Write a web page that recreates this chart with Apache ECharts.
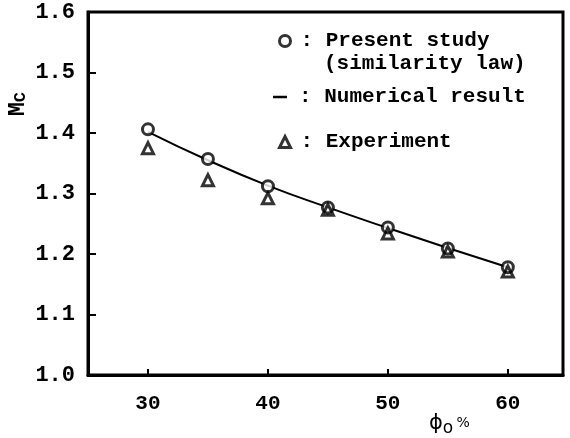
<!DOCTYPE html>
<html>
<head>
<meta charset="utf-8">
<script src="https://cdn.jsdelivr.net/npm/echarts@6/dist/echarts.min.js"></script>
<style>
  html, body { margin: 0; padding: 0; background: #fff; }
  #chart { width: 570px; height: 438px; }
</style>
</head>
<body>
<div id="chart"></div>
<script>
var phi = [30, 35, 40, 45, 50, 55, 60];
var presentStudy = [1.406, 1.357, 1.312, 1.277, 1.244, 1.209, 1.178];
var experiment = [1.375, 1.322, 1.292, 1.273, 1.234, 1.204, 1.171];
var numerical = [1.402, 1.355, 1.313, 1.277, 1.243, 1.210, 1.178];

function pairs(xs, ys) {
  var out = [];
  for (var i = 0; i < xs.length; i++) out.push([xs[i], ys[i]]);
  return out;
}

var font = 'Liberation Mono';
var legendText = { fontFamily: font, fontWeight: 'bold', fontSize: 21, lineHeight: 24, color: '#000' };
var chart = echarts.init(document.getElementById('chart'));

var option = {
  animation: false,
  backgroundColor: '#fff',
  grid: {
    left: 88, right: 7, top: 12, bottom: 63,
    show: true,
    borderColor: '#000',
    borderWidth: 3
  },
  legend: [
    {
      data: ['Present study'],
      left: 278, top: 29, padding: 0,
      itemWidth: 11, itemHeight: 11,
      selectedMode: false,
      itemStyle: { color: '#fff', borderColor: '#000', borderWidth: 3 },
      textStyle: Object.assign({}, legendText, { padding: [0, 0, 0, 5] }),
      formatter: function (n) { return ': ' + n; }
    },
    {
      data: [{ name: 'Numerical result', icon: 'rect' }],
      left: 273, top: 85, padding: 0,
      itemWidth: 14, itemHeight: 2.5,
      selectedMode: false,
      symbolKeepAspect: false,
      itemStyle: { color: '#000', borderWidth: 0 },
      textStyle: Object.assign({}, legendText, { padding: [0, 0, 0, 7] }),
      formatter: function (n) { return ': ' + n; }
    },
    {
      data: ['Experiment'],
      left: 278, top: 130, padding: 0,
      itemWidth: 11, itemHeight: 11,
      selectedMode: false,
      itemStyle: { color: '#fff', borderColor: '#000', borderWidth: 3 },
      textStyle: Object.assign({}, legendText, { padding: [0, 0, 0, 5] }),
      formatter: function (n) { return ': ' + n; }
    }
  ],
  graphic: [
    {
      type: 'text', left: 324, top: 53,
      style: { text: '(similarity law)', fontFamily: font, fontWeight: 'bold', fontSize: 21, fill: '#000' }
    },
    {
      type: 'text', x: 18, y: 104, rotation: Math.PI / 2,
      style: {
        text: '{m|M}{c|C}',
        align: 'center', verticalAlign: 'middle',
        rich: {
          m: { fontFamily: font, fontWeight: 'bold', fontSize: 23, fill: '#000' },
          c: { fontFamily: font, fontWeight: 'bold', fontSize: 17, fill: '#000', padding: [5, 0, 0, 0] }
        }
      }
    },
    {
      type: 'text', left: 429, top: 413,
      style: {
        text: '{p|ϕ}{o|o} {q|%}',
        rich: {
          p: { fontFamily: 'DejaVu Sans', fontSize: 21, fill: '#000' },
          o: { fontFamily: 'DejaVu Sans', fontSize: 17, fill: '#000', padding: [10, 0, 0, 0] },
          q: { fontFamily: 'DejaVu Sans', fontSize: 14, fill: '#000' }
        }
      }
    }
  ],
  xAxis: {
    type: 'value',
    min: 25,
    max: 64.6,
    splitNumber: 4,
    axisLine: { show: true, lineStyle: { color: '#000', width: 3 } },
    axisTick: { show: true, inside: true, length: 6, lineStyle: { color: '#000', width: 2 } },
    splitLine: { show: false },
    axisLabel: {
      margin: 18,
      fontFamily: font, fontWeight: 'bold', fontSize: 21, color: '#000',
      formatter: function (v) { return v % 10 === 0 ? String(v) : ''; }
    }
  },
  yAxis: {
    type: 'value',
    min: 1.0,
    max: 1.6,
    interval: 0.1,
    axisLine: { show: true, lineStyle: { color: '#000', width: 3 } },
    axisTick: { show: true, inside: true, length: 8, lineStyle: { color: '#000', width: 2 } },
    splitLine: { show: false },
    axisLabel: {
      margin: 13,
      fontFamily: font, fontWeight: 'bold', fontSize: 22, color: '#000',
      formatter: function (v) { return v.toFixed(1); }
    }
  },
  series: [
    {
      name: 'Numerical result',
      type: 'line',
      smooth: true,
      symbol: 'none',
      lineStyle: { color: '#000', width: 2 },
      itemStyle: { color: '#000' },
      data: pairs(phi, numerical),
      z: 2
    },
    {
      name: 'Present study',
      type: 'scatter',
      symbol: 'circle',
      symbolSize: 11,
      itemStyle: { color: '#fff', borderColor: '#000', borderWidth: 3 },
      data: pairs(phi, presentStudy),
      z: 3
    },
    {
      name: 'Experiment',
      type: 'scatter',
      symbol: 'triangle',
      symbolSize: 11,
      itemStyle: { color: 'rgba(255,255,255,0)', borderColor: '#000', borderWidth: 3 },
      data: pairs(phi, experiment),
      z: 4
    }
  ]
};

chart.setOption(option);
</script>
</body>
</html>
